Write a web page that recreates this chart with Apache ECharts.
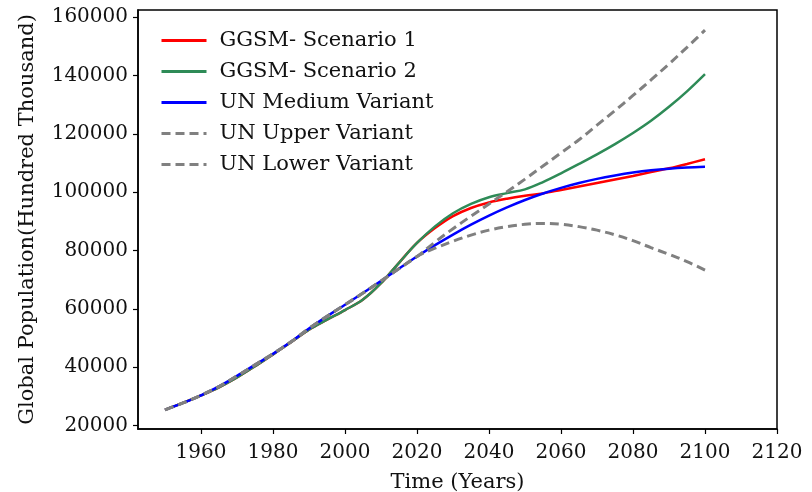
<!DOCTYPE html>
<html>
<head>
<meta charset="utf-8">
<script src="https://cdn.jsdelivr.net/npm/echarts@6/dist/echarts.min.js"></script>
<style>html,body{margin:0;padding:0;background:#fff}#c{width:812px;height:492px}</style>
</head>
<body>
<div id="c"></div>
<script>
var years = [1950,1955,1960,1965,1970,1975,1980,1985,1990,1995,2000,2005,2010,2015,2020,2025,2030,2035,2040,2045,2050,2055,2060,2065,2070,2075,2080,2085,2090,2095,2100];
var ggsm1 = [25360,27730,30300,33100,36500,40300,44400,48600,52900,56300,59600,63200,68800,75800,82600,87700,91800,94600,96500,97800,98800,99600,100800,102000,103200,104400,105600,106900,108200,109700,111300];
var ggsm2 = [25360,27730,30300,33100,36500,40300,44400,48600,52900,56300,59600,63200,68800,75800,82600,88300,92800,96000,98300,99700,101000,103500,106500,109700,113000,116500,120300,124500,129300,134600,140500];
var unMedium = [25360,27730,30350,33390,37000,40790,44580,48700,53270,57440,61430,65420,69570,73800,77950,81840,85480,88870,91990,94810,97350,99580,101510,103180,104590,105750,106740,107520,108090,108480,108750];
var unUpper = [25360,27730,30350,33390,37000,40790,44580,48700,53270,57440,61430,65420,69570,73800,77950,82900,87500,91800,96000,100200,104500,109000,113500,118000,123000,128000,133200,138500,144000,149700,155600];
var unLower = [25360,27730,30350,33390,37000,40790,44580,48700,53270,57440,61430,65420,69570,73800,77950,80800,83200,85300,87000,88200,89000,89300,89000,88200,87000,85400,83400,81000,78700,76200,73300];
var xTicks = [1960,1980,2000,2020,2040,2060,2080,2100,2120];
var yTicks = [20000,40000,60000,80000,100000,120000,140000,160000];
var names = ['GGSM- Scenario 1','GGSM- Scenario 2','UN Medium Variant','UN Upper Variant','UN Lower Variant'];

function pairs(vals){ return years.map(function(y,i){ return [y, vals[i]]; }); }
var font = 'DejaVu Serif';
var txt = '#111';
function mk(name, vals, color, dashed){
  return {
    name: name, type: 'line', data: pairs(vals), symbol: 'none', smooth: 0.35,
    lineStyle: {color: color, width: dashed ? 3 : 2.5, type: dashed ? [9,5] : 'solid'},
    itemStyle: {color: color}, emphasis: {disabled: true}
  };
}
var chart = echarts.init(document.getElementById('c'));
chart.setOption({
  animation: false,
  grid: {left: 138, top: 10, right: 35, bottom: 63, outerBoundsMode: 'none', containLabel: false, show: true, borderColor: '#000', borderWidth: 1.5, backgroundColor: 'transparent'},
  legend: {
    orient: 'vertical', left: 155, top: 25, itemWidth: 45, itemHeight: 14, itemGap: 10,
    itemStyle: {opacity: 0},
    lineStyle: {width: 3},
    textStyle: {fontFamily: font, fontSize: 21, lineHeight: 21, color: txt, padding: [0,0,0,8]},
    data: names
  },
  xAxis: {
    type: 'value', min: 1942.5, max: 2120,
    name: 'Time (Years)', nameLocation: 'middle', nameGap: 43,
    nameTextStyle: {fontFamily: font, fontSize: 21, color: txt},
    axisLine: {show: true, onZero: false, lineStyle: {color: '#000', width: 1.5}},
    axisTick: {show: true, length: 5, lineStyle: {color: '#000', width: 1.2}, customValues: xTicks},
    axisLabel: {fontFamily: font, fontSize: 20, color: txt, margin: 14, customValues: xTicks, formatter: function(v){ return String(v); }},
    splitLine: {show: false}
  },
  yAxis: {
    type: 'value', min: 18800, max: 162500,
    name: 'Global Population(Hundred Thousand)', nameLocation: 'middle', nameGap: 100,
    nameTextStyle: {fontFamily: font, fontSize: 21, color: txt},
    axisLine: {show: true, onZero: false, lineStyle: {color: '#000', width: 1.5}},
    axisTick: {show: true, length: 5, lineStyle: {color: '#000', width: 1.2}, customValues: yTicks},
    axisLabel: {fontFamily: font, fontSize: 20, color: txt, margin: 10, customValues: yTicks, formatter: function(v){ return String(v); }},
    splitLine: {show: false}
  },
  series: [
    mk(names[0], ggsm1, '#ff0000', false),
    mk(names[1], ggsm2, '#2e8b57', false),
    mk(names[2], unMedium, '#0000ff', false),
    mk(names[3], unUpper, '#808080', true),
    mk(names[4], unLower, '#808080', true)
  ]
});
</script>
</body>
</html>
